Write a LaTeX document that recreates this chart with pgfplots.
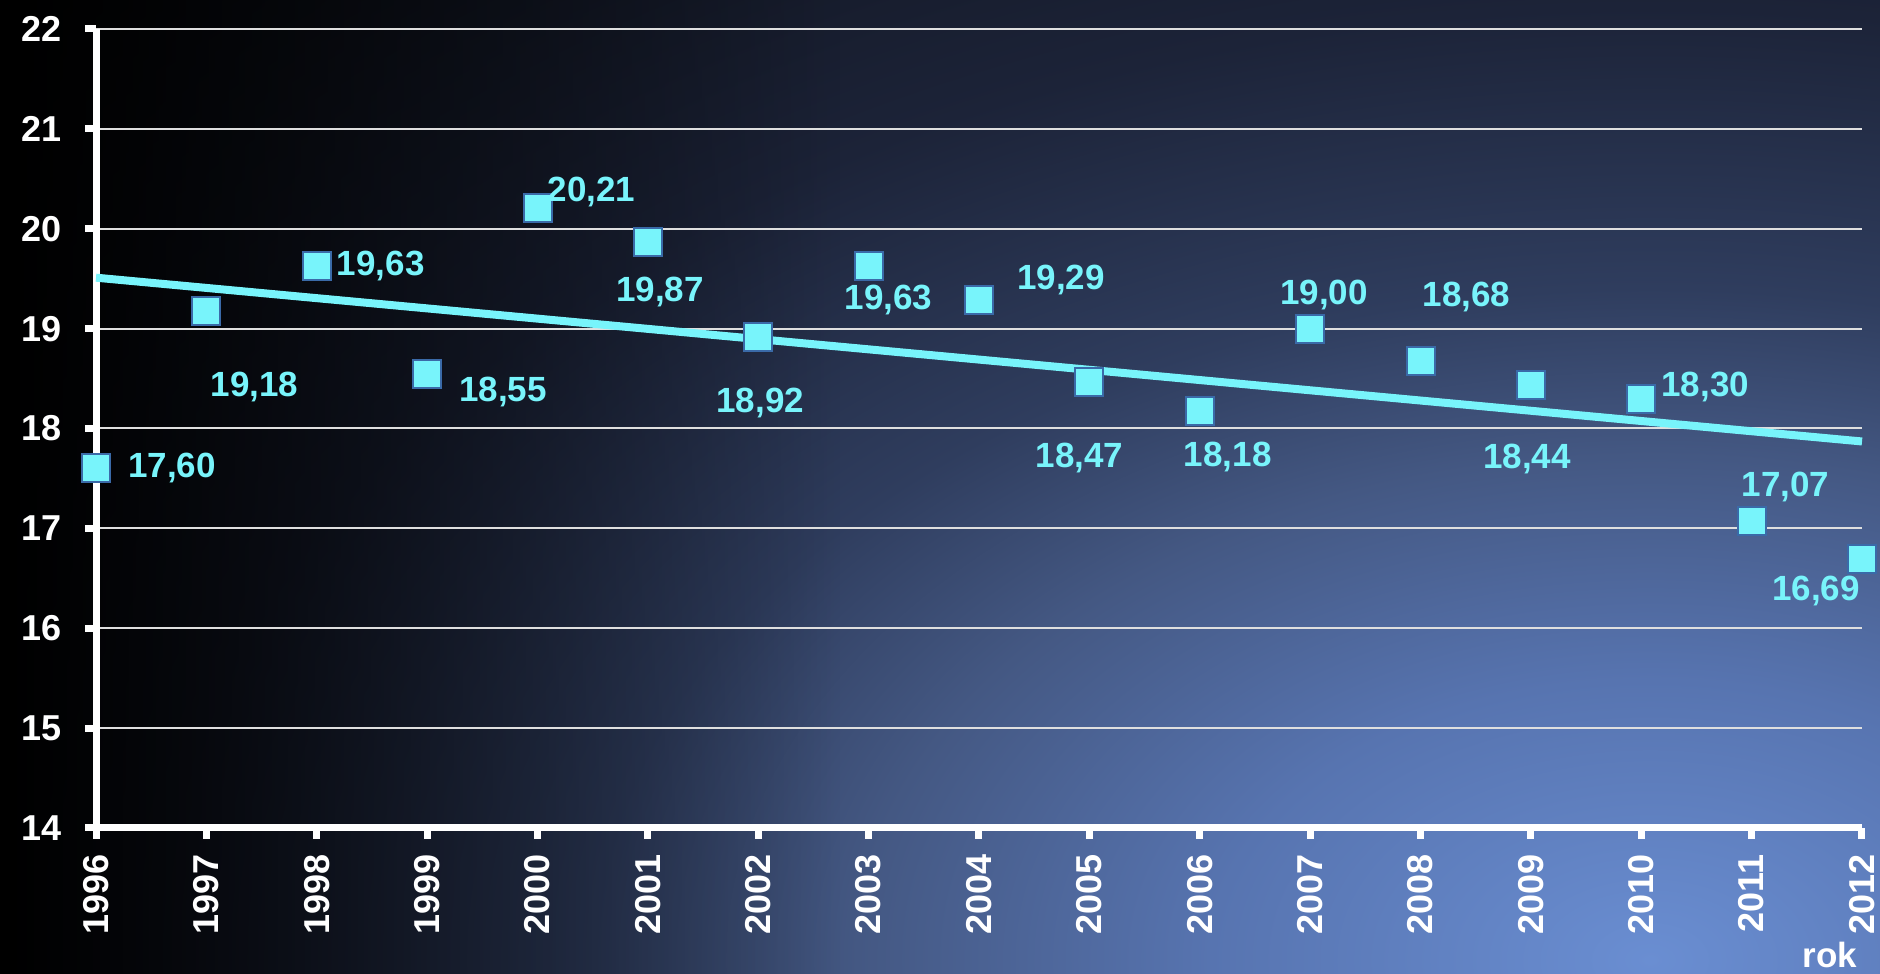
\documentclass[border=0pt]{standalone}
\usepackage{pgfplots}
\pgfplotsset{compat=1.18}
\usepackage{pgfplotstable}
\usepackage{fontspec}
\setmainfont{Liberation Sans}
\usetikzlibrary{fadings}
\definecolor{cy}{HTML}{78F4FB}
\definecolor{mkb}{HTML}{3A6AA8}
\definecolor{g0}{HTML}{6A8ED2}
\definecolor{g1}{HTML}{5774B0}
\definecolor{g2}{HTML}{445883}
\definecolor{g3}{HTML}{2F3D5E}
\definecolor{g4}{HTML}{1C2338}
\definecolor{g5}{HTML}{0C0F16}
\pgfdeclareradialshading{glow}{\pgfpoint{0bp}{0bp}}{color(0bp)=(g0); color(5bp)=(g1); color(9bp)=(g2); color(12bp)=(g3); color(17bp)=(g4); color(25bp)=(g5); color(50bp)=(g5)}
\tikzfading[name=fadeleft, left color=transparent!0, right color=transparent!100]
\pgfplotstableread{
year val dx dy
1996 17.60 38 0
1997 19.18 24 -38
1998 19.63 32 0
1999 18.55 38 -9
2000 20.21 27 8
2001 19.87 6 -25
2002 18.92 1 -33
2003 19.63 10 -17
2004 19.29 41 10
2005 18.47 -5 -38
2006 18.18 14 -23
2007 19.00 7 17
2008 18.68 23 32
2009 18.44 -2 -37
2010 18.30 32 6
2011 17.07 17 17
2012 16.69 -23 -16
}\data
\begin{document}
\begin{tikzpicture}
\begin{scope}
\clip (0,0) rectangle (940pt,487pt);
\fill[g5] (0,0) rectangle (940pt,487pt);
\shade[shading=glow] (825pt,7pt) ellipse [x radius=1100pt, y radius=700pt];
\fill[black, path fading=fadeleft] (0,0) rectangle (420pt,487pt);
\end{scope}
\begin{axis}[
  at={(48pt,73pt)}, anchor=south west,
  scale only axis, width=883pt, height=399.5pt,
  xmin=1996, xmax=2012, ymin=14, ymax=22,
  xtick={1996,...,2012}, ytick={14,...,22},
  axis x line*=bottom, axis y line*=left,
  axis line style={white, line width=3.5pt, -},
  tick style={white, line width=3.5pt},
  tick align=outside, major tick length=5.5pt,
  ymajorgrids, grid style={color=white!75!gray, line width=1pt},
  clip=false,
  /pgf/number format/assume math mode=true,
  /pgf/number format/1000 sep={},
  ticklabel style={font=\fontsize{18}{20}\selectfont\bfseries, text=white},
  yticklabel style={xshift=-8pt},
  xticklabel style={yshift=-4pt, rotate=90, anchor=east},
]
\addplot[cy, line width=4pt, no marks] coordinates {(1996,19.51) (2012,17.87)};
\addplot[only marks, mark=square*, mark size=7pt,
  mark options={fill=cy, draw=mkb, line width=1pt},
  visualization depends on={\thisrow{dx} \as \dx},
  visualization depends on={\thisrow{dy} \as \dy},
  nodes near coords={\pgfmathprintnumber[fixed, fixed zerofill, precision=2, use comma]{\pgfplotspointmeta}},
  every node near coord/.append style={anchor=center, xshift=\dx*1pt, yshift=\dy*1pt,
    font=\fontsize{17.5}{20}\selectfont\bfseries, text=cy},
] table[x=year, y=val] {\data};
\end{axis}
\node[font=\fontsize{17.5}{20}\selectfont\bfseries, text=white] at (915pt,9.5pt) {rok};
\pgfresetboundingbox
\path[use as bounding box] (0,0) rectangle (940pt,487pt);
\end{tikzpicture}
\end{document}
